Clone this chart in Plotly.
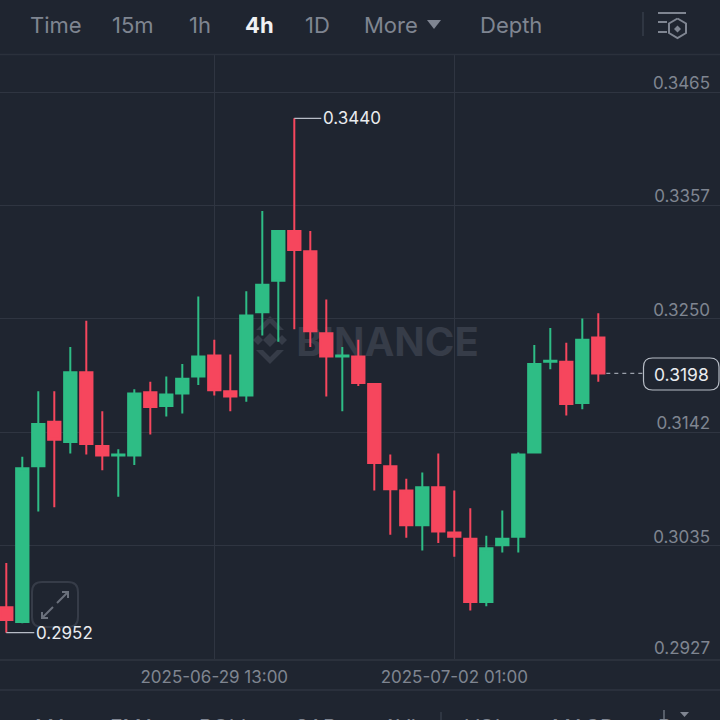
import pandas as pd
import plotly.graph_objects as go

BG = '#1f2530'
GRID = '#2f3541'
LINE = '#2b313c'
MUTED = '#7f8591'
GREEN = '#2ebd85'
RED = '#f6465d'
WATERMARK = '#363c48'
FONT = 'Inter'

# --- candles (4h bars) ---
times = pd.date_range('2025-06-27 09:00', periods=38, freq='4h')
opens = [0.2976, 0.2962, 0.3110, 0.3152, 0.3133, 0.3199, 0.3129, 0.3120, 0.3120, 0.3180,
         0.3167, 0.3179, 0.3195, 0.3215, 0.3181, 0.3177, 0.3256, 0.3286, 0.3333, 0.3314,
         0.3236, 0.3214, 0.3214, 0.3188, 0.3110, 0.3087, 0.3054, 0.3090, 0.3047, 0.3041,
         0.2981, 0.3035, 0.3043, 0.3123, 0.3209, 0.3209, 0.3170, 0.3232]
highs = [0.3018, 0.3119, 0.3181, 0.3181, 0.3223, 0.3248, 0.3162, 0.3126, 0.3183, 0.3190,
         0.3195, 0.3207, 0.3271, 0.3230, 0.3216, 0.3276, 0.3352, 0.3334, 0.3440, 0.3333,
         0.3268, 0.3223, 0.3230, 0.3189, 0.3121, 0.3098, 0.3104, 0.3122, 0.3087, 0.3070,
         0.3044, 0.3068, 0.3123, 0.3225, 0.3241, 0.3227, 0.3250, 0.3255]
lows = [0.2952, 0.2961, 0.3067, 0.3071, 0.3122, 0.3121, 0.3106, 0.3081, 0.3111, 0.3140,
        0.3157, 0.3160, 0.3187, 0.3177, 0.3162, 0.3171, 0.3234, 0.3228, 0.3240, 0.3223,
        0.3176, 0.3162, 0.3186, 0.3087, 0.3045, 0.3042, 0.3030, 0.3037, 0.3024, 0.2973,
        0.2977, 0.3028, 0.3028, 0.3122, 0.3202, 0.3158, 0.3164, 0.3190]
closes = [0.2964, 0.3108, 0.3150, 0.3135, 0.3199, 0.3131, 0.3120, 0.3121, 0.3179, 0.3166,
          0.3178, 0.3193, 0.3214, 0.3182, 0.3176, 0.3253, 0.3282, 0.3333, 0.3315, 0.3238,
          0.3214, 0.3215, 0.3189, 0.3113, 0.3088, 0.3054, 0.3090, 0.3048, 0.3043, 0.2981,
          0.3032, 0.3041, 0.3121, 0.3207, 0.3210, 0.3169, 0.3230, 0.3198]

price_ticks = [0.2927, 0.30346, 0.31422, 0.32498, 0.33574, 0.3465]
price_labels = ['0.2927', '0.3035', '0.3142', '0.3250', '0.3357', '0.3465']
date_ticks = ['2025-06-29 13:00', '2025-07-02 01:00']
date_labels = ['2025-06-29 13:00', '2025-07-02 01:00']

tab_labels = ['Time', '15m', '1h', '4h', '1D', 'More', 'Depth']
tab_left = [28, 110, 187, 243, 303, 362, 478]
bottom_labels = ['MA', 'EMA', 'BOLL', 'SAR', 'AVL', 'VOL', 'MACD', 'R']
bottom_left = [33, 108, 197, 293, 381, 463, 550, 656]

# pixel helpers for the app chrome around the chart
TOP, BOTTOM = 55, 659
BAR_PX, FIRST_PX = 16, 6.3
PX_PER_PRICE = 567 / (0.3465 - 0.2927)


def px(x):
    return x / 720


def py(y):
    return 1 - y / 720


def path(points, close=False):
    d = 'M' + ' L'.join(f'{px(x):.5f},{py(y):.5f}' for x, y in points)
    return d + (' Z' if close else '')


def time_at(x):
    return times[0] + pd.Timedelta(hours=(x - FIRST_PX) / BAR_PX * 4)


def rounded(x0, y0, x1, y1, r):
    return (f'M{px(x0 + r):.5f},{py(y0):.5f} L{px(x1 - r):.5f},{py(y0):.5f} '
            f'Q{px(x1):.5f},{py(y0):.5f} {px(x1):.5f},{py(y0 + r):.5f} '
            f'L{px(x1):.5f},{py(y1 - r):.5f} Q{px(x1):.5f},{py(y1):.5f} {px(x1 - r):.5f},{py(y1):.5f} '
            f'L{px(x0 + r):.5f},{py(y1):.5f} Q{px(x0):.5f},{py(y1):.5f} {px(x0):.5f},{py(y1 - r):.5f} '
            f'L{px(x0):.5f},{py(y0 + r):.5f} Q{px(x0):.5f},{py(y0):.5f} {px(x0 + r):.5f},{py(y0):.5f} Z')


def stroke(points, color=MUTED, width=2, layer='above'):
    return dict(type='path', xref='paper', yref='paper', path=path(points), layer=layer,
                line=dict(color=color, width=width))


def solid(points, color, layer='above'):
    return dict(type='path', xref='paper', yref='paper', path=path(points, True), layer=layer,
                fillcolor=color, line=dict(width=0))


shapes = [
    # dividers
    stroke([(0, 54.5), (720, 54.5)], LINE, 1.5),
    stroke([(0, 690), (720, 690)], GRID, 1.5),
    stroke([(643, 12), (643, 36)], '#363c48', 1.5),
    stroke([(441, 712), (441, 720)], '#363c48', 1.5),
    stroke([(664, 710), (664, 720)], '#6b717c', 1.5),
    # dropdown triangles
    solid([(427, 20), (441, 20), (434, 29)], MUTED),
    solid([(680, 712), (689, 712), (684.5, 717)], MUTED),
    # top right icon
    stroke([(658, 13), (686, 13)]),
    stroke([(658, 22), (667, 22)]),
    stroke([(658, 32), (667, 32)]),
    stroke([(677.5, 18.5), (686, 23.5), (686, 33), (677.5, 38), (669, 33), (669, 23.5), (677.5, 18.5)]),
    solid([(677.5, 25.5), (681, 29), (677.5, 32.5), (674, 29)], MUTED),
    # watermark, under the candles
    solid([(270, 316), (284, 330), (277, 330), (270, 323), (263, 330), (256, 330)], WATERMARK, 'below'),
    solid([(270, 333), (277, 340), (270, 347), (263, 340)], WATERMARK, 'below'),
    solid([(258, 335), (263, 340), (258, 345), (253, 340)], WATERMARK, 'below'),
    solid([(282, 335), (287, 340), (282, 345), (277, 340)], WATERMARK, 'below'),
    solid([(270, 364), (284, 350), (277, 350), (270, 357), (263, 350), (256, 350)], WATERMARK, 'below'),
    dict(type='rect', xref='paper', yref='paper', x0=px(290), x1=px(485), y0=py(360), y1=py(320),
         layer='below', line=dict(width=0),
         label=dict(text='BINANCE', textposition='middle center',
                    font=dict(family=FONT, size=40, color=WATERMARK, weight=700))),
    # last price leader and box
    dict(type='line', xref='x', yref='y', x0=times[-1], x1=time_at(643), y0=closes[-1], y1=closes[-1],
         layer='below', line=dict(color='#9aa0aa', width=1.2, dash='4px,4px')),
    dict(type='path', xref='paper', yref='paper', path=rounded(643.5, 358, 719, 390, 9),
         fillcolor=BG, line=dict(color='#b7bdc6', width=1.2)),
    # expand button
    dict(type='path', xref='paper', yref='paper', path=rounded(32, 582, 78, 627, 10),
         fillcolor='rgba(0,0,0,0)', line=dict(color='#363c48', width=2)),
    stroke([(57, 603), (68, 592)], '#6b717c'),
    stroke([(62, 592), (68, 592), (68, 598)], '#6b717c'),
    stroke([(53, 607), (42, 618)], '#6b717c'),
    stroke([(42, 612), (42, 618), (48, 618)], '#6b717c'),
]

annotations = []
for label, left in zip(tab_labels, tab_left):
    active = label == '4h'
    annotations.append(dict(text=f'<b>{label}</b>' if active else label, xref='paper', yref='paper',
                            x=px(left), y=py(25), xanchor='left', yanchor='middle', showarrow=False,
                            font=dict(family=FONT, size=22, color='#f0f1f3' if active else MUTED)))
for label, left in zip(bottom_labels, bottom_left):
    annotations.append(dict(text=label, xref='paper', yref='paper', x=px(left), y=py(712.5),
                            xanchor='left', yanchor='top', showarrow=False,
                            font=dict(family=FONT, size=21, color=MUTED)))

# plotly hides the lowest inside label once it is shifted, so it goes in by hand
annotations.append(dict(text=price_labels[0], xref='paper', yref='y', x=px(712), y=price_ticks[0],
                        xanchor='right', yanchor='middle', yshift=11, showarrow=False,
                        font=dict(family=FONT, size=17, color=MUTED)))

# high, low and last price labels
annotations.append(dict(text=f'{max(highs):.4f}', x=times[highs.index(max(highs))], y=max(highs),
                        xanchor='left', yanchor='middle', ax=27, ay=0, axref='pixel', ayref='pixel',
                        showarrow=True, arrowhead=0, arrowwidth=1.2, arrowcolor='#b7bdc6',
                        font=dict(family=FONT, size=17, color='#eaecef')))
annotations.append(dict(text=f'{min(lows):.4f}', x=times[lows.index(min(lows))], y=min(lows),
                        xanchor='left', yanchor='middle', ax=28, ay=0, axref='pixel', ayref='pixel',
                        showarrow=True, arrowhead=0, arrowwidth=1.2, arrowcolor='#b7bdc6',
                        font=dict(family=FONT, size=17, color='#eaecef')))
annotations.append(dict(text=f'{closes[-1]:.4f}', xref='paper', yref='paper', x=px(681.5), y=py(374),
                        xanchor='center', yanchor='middle', showarrow=False,
                        font=dict(family=FONT, size=17.5, color='#eaecef')))

fig = go.Figure(go.Candlestick(
    x=times, open=opens, high=highs, low=lows, close=closes,
    increasing=dict(line=dict(color=GREEN, width=2), fillcolor=GREEN),
    decreasing=dict(line=dict(color=RED, width=2), fillcolor=RED),
    whiskerwidth=0,
))

fig.update_layout(
    width=720, height=720,
    margin=dict(l=0, r=0, t=0, b=0),
    paper_bgcolor=BG, plot_bgcolor=BG,
    showlegend=False,
    boxgap=0.23, boxgroupgap=0,
    font=dict(family=FONT, color=MUTED),
    shapes=shapes,
    annotations=annotations,
    xaxis=dict(
        range=[time_at(0), time_at(720)], rangeslider=dict(visible=False),
        tickvals=date_ticks, ticktext=date_labels,
        showgrid=True, gridcolor=GRID, gridwidth=1, zeroline=False,
        showline=True, linecolor=LINE, linewidth=1.5,
        ticks='outside', ticklen=2, tickcolor=BG,
        tickfont=dict(family=FONT, size=17, color=MUTED),
    ),
    yaxis=dict(
        domain=[py(BOTTOM), py(TOP)], side='right',
        range=[0.2927, 0.2927 + (BOTTOM - TOP) / PX_PER_PRICE],
        tickvals=price_ticks, ticktext=price_labels,
        ticklabelposition='inside top', ticks='', ticklabelstandoff=7,
        ticklabelshift=3,
        showgrid=True, gridcolor=GRID, gridwidth=1, zeroline=False, showline=False,
        tickfont=dict(family=FONT, size=17, color=MUTED),
    ),
)

# the page's default body margin would shift the 720x720 figure
fig.write_html('out.html', config=dict(displayModeBar=False),
               post_script="document.body.style.margin='0';document.body.style.background='#1f2530';")
